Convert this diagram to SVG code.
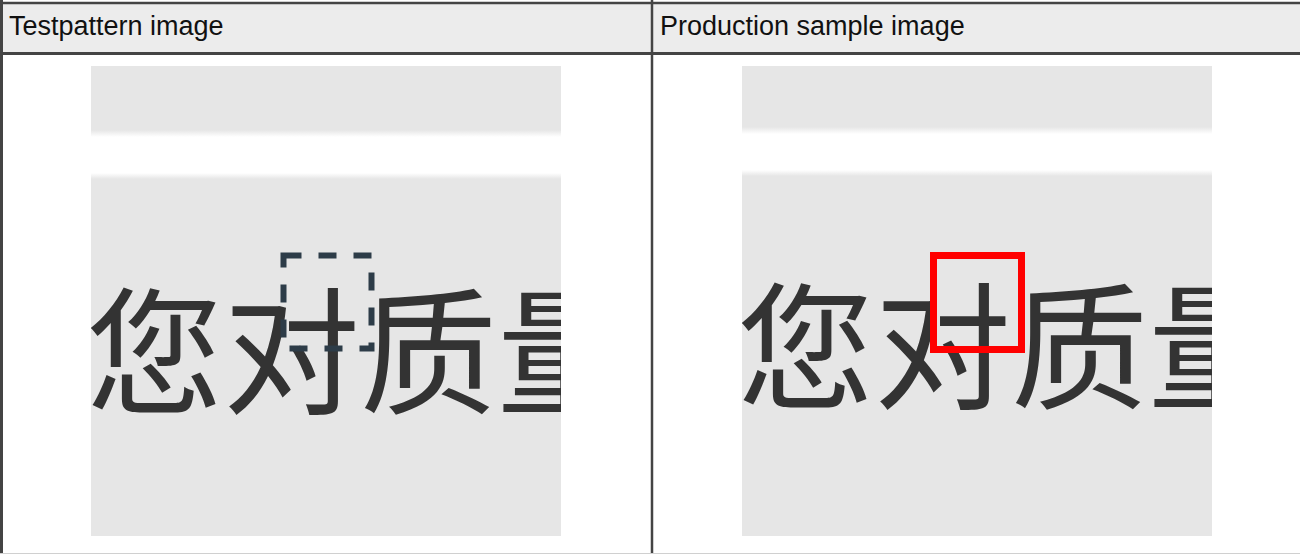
<svg xmlns="http://www.w3.org/2000/svg" width="1300" height="554" viewBox="0 0 1300 554">
<style>
.hdr{font-family:"Liberation Sans",Arial,sans-serif;font-size:27px;fill:#111}
.cjk{font-family:"Noto Sans CJK SC","Noto Sans CJK JP",sans-serif;font-size:137px;fill:#333}
.border{stroke:#444;fill:none}
.img{fill:#e6e6e6}
</style>
<defs>
<clipPath id="clipL"><rect x="91" y="66" width="470" height="470"/></clipPath>
<clipPath id="clipR"><rect x="742" y="66" width="470" height="470"/></clipPath>
<linearGradient id="fadeL" x1="0" y1="0" x2="0" y2="1">
<stop offset="0" stop-color="#e6e6e6"/><stop offset="1" stop-color="#ffffff"/>
</linearGradient>
<linearGradient id="fadeUp" x1="0" y1="1" x2="0" y2="0">
<stop offset="0" stop-color="#e6e6e6"/><stop offset="1" stop-color="#ffffff"/>
</linearGradient>
</defs>
<rect x="0" y="0" width="1300" height="554" fill="#ffffff"/>
<g id="header">
<rect x="0" y="3" width="1300" height="50" fill="#ececec"/>
<text class="hdr" x="9" y="35">Testpattern image</text>
<text class="hdr" x="660" y="35">Production sample image</text>
</g>
<g id="table-lines">
<line class="border" x1="0" y1="3" x2="1300" y2="3" stroke-width="2.5"/>
<line class="border" x1="0" y1="53.5" x2="1300" y2="53.5" stroke-width="3"/>
<line class="border" x1="1.5" y1="0" x2="1.5" y2="554" stroke-width="3"/>
<line class="border" x1="652" y1="0" x2="652" y2="554" stroke-width="2.5"/>
<line x1="0" y1="553.5" x2="1300" y2="553.5" stroke="#d0d0d0" stroke-width="1"/>
</g>
<g id="testpattern-image">
<rect class="img" x="91" y="66" width="470" height="64"/>
<rect x="91" y="130" width="470" height="7" fill="url(#fadeL)"/>
<rect x="91" y="173" width="470" height="6" fill="url(#fadeUp)"/>
<rect class="img" x="91" y="179" width="470" height="357"/>
<g clip-path="url(#clipL)">
<text class="cjk" x="86" y="404">您对质量</text>
</g>
<rect id="dashed-region" x="283.5" y="255.5" width="88" height="93" fill="none" stroke="#2d3c48" stroke-width="6" stroke-dasharray="18 17"/>
</g>
<g id="production-image">
<rect class="img" x="742" y="66" width="470" height="61"/>
<rect x="742" y="127" width="470" height="7" fill="url(#fadeL)"/>
<rect x="742" y="170" width="470" height="6" fill="url(#fadeUp)"/>
<rect class="img" x="742" y="176" width="470" height="360"/>
<g clip-path="url(#clipR)">
<text class="cjk" x="737" y="399">您对质量</text>
</g>
<rect id="red-region" x="933.5" y="255.5" width="88" height="94" fill="none" stroke="#ff0000" stroke-width="7"/>
</g>
</svg>
